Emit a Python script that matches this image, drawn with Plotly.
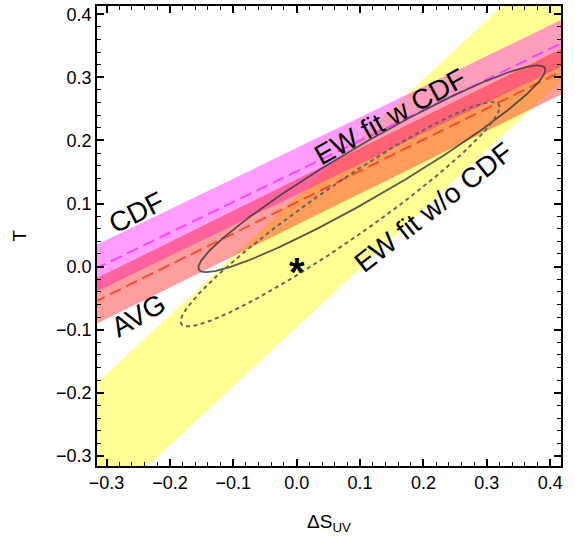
import numpy as np
import plotly.graph_objects as go

# ---------------- data ----------------
# straight constraint bands: T = slope*S + intercept +/- halfwidth
band_names = ["EW fit (yellow)", "CDF", "AVG"]
band_slope = [0.935, 0.486, 0.496]
band_intercept = [0.007, 0.151, 0.102]
band_halfwidth = [0.103, 0.037, 0.036]

# fit contours: centre, half-width in S, slope of conjugate axis, half-height in T
ellipse_names = ["EW fit w CDF", "EW fit w/o CDF"]
ell_center_S = [0.1186, 0.0685]
ell_center_T = [0.155, 0.083]
ell_halfwidth_S = [0.2737, 0.2515]
ell_slope = [0.5725, 0.675]
ell_halfheight_T = [0.048, 0.0527]

# SM reference point
sm_S = [0.0]
sm_T = [0.0]

x_range = [-0.315, 0.417]
y_range = [-0.316, 0.413]
major_step = 0.1
minor_step = 0.02

# ---------------- styles ----------------
band_fill = ["rgba(255,255,0,0.42)", "rgba(255,0,255,0.38)", "rgba(255,0,0,0.38)"]
band_line = [None, "#ff44ff", "#ff4a30"]
ell_style = [dict(color="rgba(60,60,60,0.85)", width=1.8, dash="solid"),
             dict(color="rgba(95,95,95,0.95)", width=2.0, dash="4px,3.5px")]

FONT = "Liberation Sans, Arial, sans-serif"

fig = go.Figure()

S_ext = np.array([-0.6, 0.7])
for i in range(len(band_names)):
    upper = band_slope[i] * S_ext + band_intercept[i] + band_halfwidth[i]
    lower = band_slope[i] * S_ext + band_intercept[i] - band_halfwidth[i]
    xs = list(S_ext) + list(S_ext[::-1])
    ys = list(upper) + list(lower[::-1])
    fig.add_trace(go.Scatter(x=xs, y=ys, mode="lines", fill="toself",
                             fillcolor=band_fill[i], line=dict(width=0),
                             hoverinfo="skip", showlegend=False))

for i in range(1, len(band_names)):
    centre = band_slope[i] * S_ext + band_intercept[i]
    fig.add_trace(go.Scatter(x=list(S_ext), y=list(centre), mode="lines",
                             line=dict(color=band_line[i], width=2, dash="12px,6px"),
                             hoverinfo="skip", showlegend=False))

t = np.linspace(0, 2 * np.pi, 361)
for i in range(len(ellipse_names)):
    xs = ell_center_S[i] + ell_halfwidth_S[i] * np.cos(t)
    ys = (ell_center_T[i] + ell_slope[i] * ell_halfwidth_S[i] * np.cos(t)
          + ell_halfheight_T[i] * np.sin(t))
    fig.add_trace(go.Scatter(x=xs, y=ys, mode="lines", line=ell_style[i],
                             hoverinfo="skip", showlegend=False))

# invisible trace that carries the minor-tick overlay axes
fig.add_trace(go.Scatter(x=sm_S, y=sm_T, xaxis="x2", yaxis="y2", mode="markers",
                         marker=dict(opacity=0), hoverinfo="skip", showlegend=False))

labels = [
    dict(text="CDF", x=-0.2523, y=0.0853, textangle=-27),
    dict(text="AVG", x=-0.2496, y=-0.0779, textangle=-30),
    dict(text="EW fit w CDF", x=0.1479, y=0.238, textangle=-29),
    dict(text="EW fit w/o CDF", x=0.2158, y=0.0932, textangle=-38),
]
for lab in labels:
    fig.add_annotation(text=lab["text"], x=lab["x"], y=lab["y"], xref="x", yref="y",
                       textangle=lab["textangle"], showarrow=False,
                       font=dict(family=FONT, size=28, color="black"))

fig.add_annotation(text="<b>*</b>", x=sm_S[0], y=sm_T[0], xref="x", yref="y",
                   showarrow=False, yshift=-5,
                   font=dict(family=FONT, size=40, color="black"))

axis_common = dict(showline=True, linecolor="#000000", linewidth=1.5, mirror="allticks",
                   ticks="inside", ticklen=7, tickwidth=1.5, tickcolor="#000000",
                   tickmode="linear", tick0=0, dtick=major_step, tickformat=".1f",
                   showgrid=False, zeroline=False,
                   tickfont=dict(family=FONT, size=18, color="black"))

minor_common = dict(showline=True, linecolor="#000000", linewidth=1.5, mirror="allticks",
                    ticks="inside", ticklen=4, tickwidth=1.2, tickcolor="#000000",
                    tickmode="linear", tick0=0, dtick=minor_step,
                    showticklabels=False, showgrid=False, zeroline=False)

fig.update_layout(
    xaxis=dict(range=x_range, **axis_common,
               title=dict(text="ΔS<sub>UV</sub>", standoff=22,
                          font=dict(family=FONT, size=19, color="black"))),
    yaxis=dict(range=y_range, **axis_common,
               title=dict(text="T", standoff=24,
                          font=dict(family=FONT, size=19, color="black"))),
    xaxis2=dict(range=x_range, overlaying="x", side="bottom", **minor_common),
    yaxis2=dict(range=y_range, overlaying="y", side="left", **minor_common),
    width=575, height=538, autosize=False,
    margin=dict(l=97, r=14, t=4, b=72),
    plot_bgcolor="white", paper_bgcolor="white")

fig.write_html("out.html", config={"displayModeBar": False},
               post_script="document.body.style.margin='0';")
